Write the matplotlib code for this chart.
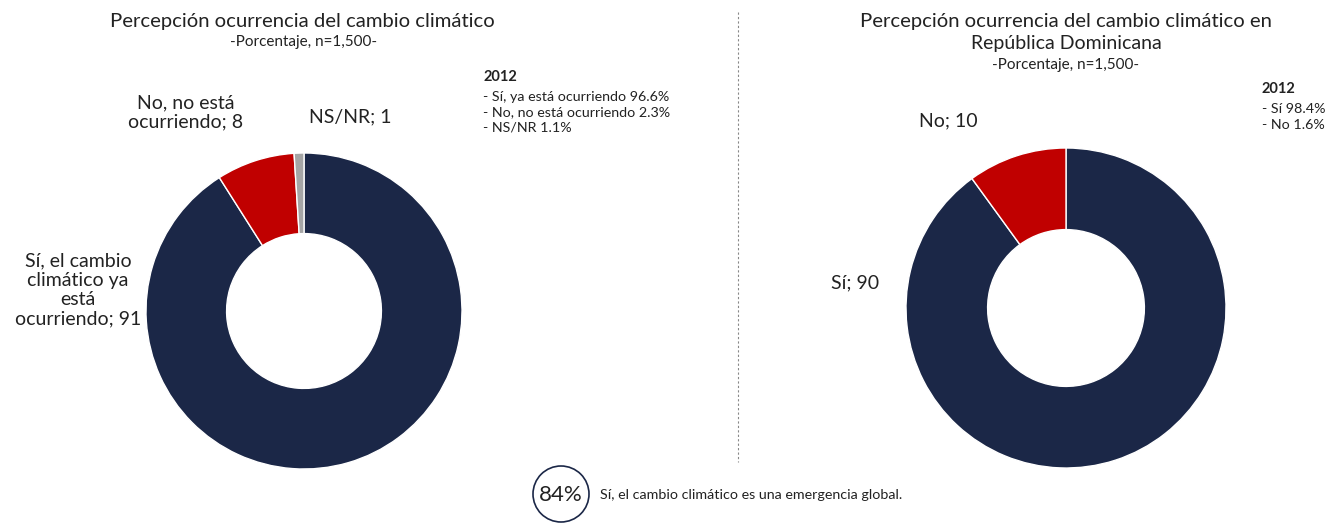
import matplotlib
matplotlib.use('Agg')
import matplotlib.pyplot as plt
from matplotlib.patches import Ellipse
from matplotlib.lines import Line2D

plt.rcParams['font.family'] = ['Lato', 'DejaVu Sans']

# data
left_labels = ['Sí, el cambio\nclimático ya\nestá\nocurriendo', 'No, no está\nocurriendo', 'NS/NR']
left_values = [91, 8, 1]
right_labels = ['Sí', 'No']
right_values = [90, 10]
left_2012 = ['- Sí, ya está ocurriendo 96.6%', '- No, no está ocurriendo 2.3%', '- NS/NR 1.1%']
right_2012 = ['- Sí 98.4%', '- No 1.6%']
colors = ['#1b2747', '#c00000', '#a5a5a5']

W, H = 1344, 523
fig = plt.figure(figsize=(W / 100, H / 100), dpi=100)
renderer = fig.canvas.get_renderer()


def px(x, y):
    return x / W, 1 - y / H


def fit(t, width):
    # scale a text so that it spans the given width in pixels
    w = t.get_window_extent(renderer).width
    t.set_fontsize(t.get_fontsize() * width / w)
    return t


def donut(cx, cy, r, values, cols):
    ax = fig.add_axes([(cx - r) / W, (H - cy - r) / H, 2 * r / W, 2 * r / H])
    ax.pie(values, colors=cols, startangle=90, counterclock=False, radius=1,
           wedgeprops=dict(width=0.51, edgecolor='white', linewidth=1))
    ax.set_xlim(-1, 1)
    ax.set_ylim(-1, 1)
    ax.axis('off')
    return ax


donut(304, 311, 158, left_values, colors)
donut(1066, 308, 160, right_values, colors[:2])

txt = '#222222'
lab = 14

# left titles
fit(fig.text(*px(302, 21), 'Percepción ocurrencia del cambio climático', ha='center', va='center',
             fontsize=12, color=txt), 385)
fig.text(*px(304, 42), '-Porcentaje, n=1,500-', ha='center', va='center', fontsize=11, color=txt)
fig.text(*px(483, 77), '2012', ha='left', va='center', fontsize=10.5, fontweight='bold', color=txt)
for i, s in enumerate(left_2012):
    fig.text(*px(483, 97 + i * 15.5), s, ha='left', va='center', fontsize=10.3, color=txt)

# left labels
fig.text(*px(186, 112), f'{left_labels[1]}; {left_values[1]}', ha='center', va='center',
         fontsize=lab, color=txt, linespacing=1.15)
fig.text(*px(350, 117), f'{left_labels[2]}; {left_values[2]}', ha='center', va='center',
         fontsize=lab, color=txt)
fig.text(*px(78, 290), f'{left_labels[0]}; {left_values[0]}', ha='center', va='center',
         fontsize=lab, color=txt, linespacing=1.15)

# right titles
fit(fig.text(*px(1066, 21), 'Percepción ocurrencia del cambio climático en', ha='center', va='center',
             fontsize=12, color=txt), 412)
fig.text(*px(1066, 43), 'República Dominicana', ha='center', va='center', fontsize=14, color=txt)
fig.text(*px(1066, 65), '-Porcentaje, n=1,500-', ha='center', va='center', fontsize=11, color=txt)
fig.text(*px(1262, 89), '2012', ha='left', va='center', fontsize=10.5, fontweight='bold', color=txt)
for i, s in enumerate(right_2012):
    fig.text(*px(1262, 109 + i * 16), s, ha='left', va='center', fontsize=10.3, color=txt)

# right labels
fig.text(*px(948, 121), f'{right_labels[1]}; {right_values[1]}', ha='center', va='center',
         fontsize=lab, color=txt)
fig.text(*px(855, 283), f'{right_labels[0]}; {right_values[0]}', ha='center', va='center',
         fontsize=lab, color=txt)

# divider
fig.add_artist(Line2D([738 / W, 738 / W], [1 - 12 / H, 1 - 462 / H], transform=fig.transFigure,
                      color='#888888', linestyle=(0, (2, 2)), linewidth=0.8))

# bottom note
fig.add_artist(Ellipse(px(561, 494), 56 / W, 56 / H, transform=fig.transFigure,
                       facecolor='none', edgecolor='#1b2747', linewidth=1.2))
fig.text(*px(561, 495), '84%', ha='center', va='center', fontsize=16, color=txt)
fig.text(*px(600, 495), 'Sí, el cambio climático es una emergencia global.', ha='left', va='center',
         fontsize=10.3, color=txt)

fig.savefig('out.png', dpi=100, facecolor='white')
